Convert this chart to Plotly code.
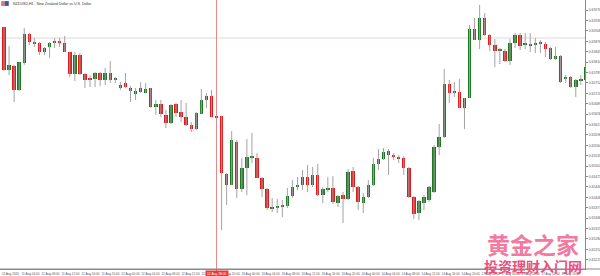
import plotly.graph_objects as go

# ---- data (NZDUSD, H1) ----
open_ = [0.65919, 0.65790, 0.65802, 0.65730, 0.65811, 0.65898, 0.65874, 0.65871, 0.65844, 0.65859,
         0.65871, 0.65874, 0.65871, 0.65844, 0.65778, 0.65835, 0.65778, 0.65766, 0.65763, 0.65781,
         0.65760, 0.65781, 0.65760, 0.65736, 0.65751, 0.65736, 0.65718, 0.65736, 0.65721, 0.65736,
         0.65679, 0.65688, 0.65655, 0.65631, 0.65688, 0.65664, 0.65649, 0.65625, 0.65613, 0.65658,
         0.65700, 0.65712, 0.65646, 0.65652, 0.65478, 0.65445, 0.65574, 0.65433, 0.65496, 0.65526,
         0.65526, 0.65466, 0.65433, 0.65373, 0.65376, 0.65379, 0.65382, 0.65412, 0.65439, 0.65445,
         0.65469, 0.65445, 0.65475, 0.65415, 0.65430, 0.65436, 0.65391, 0.65415, 0.65403, 0.65487,
         0.65439, 0.65391, 0.65409, 0.65445, 0.65508, 0.65523, 0.65547, 0.65535, 0.65529, 0.65526,
         0.65496, 0.65409, 0.65361, 0.65391, 0.65400, 0.65424, 0.65559, 0.65589, 0.65748, 0.65722,
         0.65724, 0.65676, 0.65706, 0.65913, 0.65880, 0.65946, 0.65895, 0.65865, 0.65847, 0.65847,
         0.65817, 0.65871, 0.65895, 0.65865, 0.65862, 0.65865, 0.65868, 0.65868, 0.65856, 0.65823,
         0.65832, 0.65763, 0.65769, 0.65739, 0.65757, 0.65760]
close = [0.65790, 0.65805, 0.65730, 0.65814, 0.65898, 0.65874, 0.65868, 0.65844, 0.65856, 0.65871,
         0.65877, 0.65871, 0.65844, 0.65778, 0.65835, 0.65778, 0.65760, 0.65760, 0.65781, 0.65760,
         0.65781, 0.65760, 0.65763, 0.65745, 0.65739, 0.65727, 0.65727, 0.65724, 0.65733, 0.65679,
         0.65688, 0.65658, 0.65631, 0.65685, 0.65661, 0.65649, 0.65625, 0.65613, 0.65661, 0.65700,
         0.65712, 0.65649, 0.65649, 0.65481, 0.65445, 0.65580, 0.65433, 0.65496, 0.65529, 0.65529,
         0.65466, 0.65433, 0.65376, 0.65379, 0.65382, 0.65382, 0.65412, 0.65439, 0.65445, 0.65469,
         0.65445, 0.65475, 0.65415, 0.65433, 0.65436, 0.65394, 0.65412, 0.65403, 0.65484, 0.65439,
         0.65394, 0.65409, 0.65445, 0.65508, 0.65523, 0.65544, 0.65535, 0.65529, 0.65523, 0.65496,
         0.65409, 0.65358, 0.65397, 0.65409, 0.65439, 0.65559, 0.65589, 0.65748, 0.65721, 0.65724,
         0.65676, 0.65706, 0.65913, 0.65880, 0.65946, 0.65895, 0.65865, 0.65847, 0.65850, 0.65817,
         0.65871, 0.65895, 0.65862, 0.65868, 0.65865, 0.65871, 0.65871, 0.65853, 0.65823, 0.65832,
         0.65754, 0.65769, 0.65739, 0.65760, 0.65763, 0.65799]
high = [0.65919, 0.65862, 0.65805, 0.65814, 0.65916, 0.65901, 0.65886, 0.65874, 0.65859, 0.65874,
        0.65886, 0.65886, 0.65892, 0.65844, 0.65844, 0.65841, 0.65781, 0.65775, 0.65784, 0.65784,
        0.65796, 0.65817, 0.65769, 0.65754, 0.65781, 0.65742, 0.65736, 0.65754, 0.65751, 0.65736,
        0.65700, 0.65700, 0.65670, 0.65688, 0.65691, 0.65700, 0.65691, 0.65634, 0.65664, 0.65733,
        0.65721, 0.65730, 0.65652, 0.65652, 0.65481, 0.65607, 0.65580, 0.65526, 0.65583, 0.65601,
        0.65541, 0.65469, 0.65436, 0.65406, 0.65403, 0.65400, 0.65436, 0.65460, 0.65469, 0.65490,
        0.65505, 0.65499, 0.65508, 0.65439, 0.65469, 0.65472, 0.65415, 0.65424, 0.65493, 0.65499,
        0.65442, 0.65421, 0.65460, 0.65526, 0.65553, 0.65556, 0.65553, 0.65541, 0.65535, 0.65532,
        0.65499, 0.65412, 0.65400, 0.65415, 0.65442, 0.65565, 0.65628, 0.65793, 0.65760, 0.65754,
        0.65763, 0.65706, 0.65925, 0.65946, 0.65985, 0.65961, 0.65898, 0.65883, 0.65856, 0.65853,
        0.65883, 0.65901, 0.65901, 0.65901, 0.65901, 0.65886, 0.65880, 0.65874, 0.65859, 0.65859,
        0.65835, 0.65775, 0.65772, 0.65763, 0.65775, 0.65802]
low = [0.65787, 0.65775, 0.65694, 0.65727, 0.65805, 0.65865, 0.65859, 0.65835, 0.65835, 0.65826,
       0.65856, 0.65859, 0.65844, 0.65769, 0.65757, 0.65775, 0.65736, 0.65739, 0.65739, 0.65742,
       0.65745, 0.65751, 0.65751, 0.65730, 0.65736, 0.65694, 0.65700, 0.65721, 0.65721, 0.65676,
       0.65655, 0.65649, 0.65616, 0.65628, 0.65649, 0.65634, 0.65622, 0.65604, 0.65610, 0.65658,
       0.65676, 0.65649, 0.65646, 0.65310, 0.65385, 0.65445, 0.65406, 0.65424, 0.65415, 0.65511,
       0.65466, 0.65409, 0.65370, 0.65364, 0.65361, 0.65349, 0.65376, 0.65406, 0.65430, 0.65430,
       0.65424, 0.65439, 0.65412, 0.65391, 0.65424, 0.65388, 0.65379, 0.65331, 0.65400, 0.65424,
       0.65370, 0.65361, 0.65406, 0.65442, 0.65490, 0.65520, 0.65475, 0.65520, 0.65511, 0.65475,
       0.65406, 0.65343, 0.65340, 0.65370, 0.65394, 0.65421, 0.65535, 0.65586, 0.65691, 0.65709,
       0.65676, 0.65613, 0.65706, 0.65880, 0.65853, 0.65892, 0.65847, 0.65799, 0.65808, 0.65814,
       0.65805, 0.65856, 0.65850, 0.65853, 0.65844, 0.65841, 0.65841, 0.65829, 0.65820, 0.65820,
       0.65751, 0.65751, 0.65736, 0.65709, 0.65745, 0.65760]

y_tick_labels = ["0.65970", "0.65939", "0.65908", "0.65876", "0.65845", "0.65814", "0.65783",
                 "0.65752", "0.65720", "0.65689", "0.65658", "0.65627", "0.65596", "0.65564",
                 "0.65533", "0.65502", "0.65471", "0.65440", "0.65408", "0.65377", "0.65346",
                 "0.65315", "0.65284", "0.65252", "0.65221"]

x_tick_labels = ["11 Aug 2020", "11 Aug 04:00", "11 Aug 08:00", "11 Aug 12:00", "11 Aug 16:00",
                 "11 Aug 20:00", "12 Aug 00:00", "12 Aug 04:00", "12 Aug 08:00", "12 Aug 12:00",
                 "12 Aug 16:00", "12 Aug 20:00", "13 Aug 00:00", "13 Aug 04:00", "13 Aug 08:00",
                 "13 Aug 12:00", "13 Aug 16:00", "13 Aug 20:00", "14 Aug 00:00", "14 Aug 04:00",
                 "14 Aug 08:00", "14 Aug 12:00", "14 Aug 16:00", "14 Aug 20:00", "17 Aug 00:00",
                 "17 Aug 04:00", "17 Aug 08:00", "17 Aug 12:00", "17 Aug 16:00", "17 Aug 20:00"]

title_text = "NZDUSD,H1 - New Zealand Dollar vs U.S. Dollar"
current_price = 0.65886
cursor_index = 42
cursor_label = "12 Aug 18:00"

# ---- styling ----
GREEN = "#1d7a22"
RED = "#e3191b"
WICK = "#a3a3a3"

n = len(open_)
idx = list(range(n))

wx, wy = [], []
for i in idx:
    wx += [i, i, None]
    wy += [low[i], high[i], None]

bases = [min(o, c) for o, c in zip(open_, close)]
heights = [max(abs(c - o), 0.00004) for o, c in zip(open_, close)]
colors = [GREEN if c >= o else RED for o, c in zip(open_, close)]

fig = go.Figure()
fig.add_trace(go.Scatter(x=wx, y=wy, mode="lines", line=dict(color=WICK, width=1),
                         hoverinfo="skip", showlegend=False))
fig.add_trace(go.Bar(x=idx, y=heights, base=bases, width=0.68,
                     marker=dict(color=colors, line=dict(width=0)), showlegend=False))

x_label_pos = [1.28 + 3.953 * k for k in range(len(x_tick_labels))]

fig.update_layout(
    width=600, height=276,
    margin=dict(l=0, r=15, t=0, b=7),
    paper_bgcolor="white", plot_bgcolor="white",
    font=dict(family="Liberation Sans Narrow, Liberation Sans, Arial", color="#444"),
    bargap=0,
    xaxis=dict(range=[-0.79, 114.82], showgrid=False, zeroline=False, automargin=False,
               showline=True, linecolor="#8a8a8a", linewidth=1,
               tickmode="array", tickvals=x_label_pos, ticktext=x_tick_labels, tickangle=0,
               tickfont=dict(size=3.1, color="#555"), ticks="", ticklabelstandoff=1),
    yaxis=dict(range=[0.65193, 0.66000], side="right", showgrid=False, zeroline=False,
               automargin=False,
               showline=True, linecolor="#8a8a8a", linewidth=1,
               tickmode="array", tickvals=[float(t) for t in y_tick_labels],
               ticktext=y_tick_labels, tickfont=dict(size=3.4, color="#555"),
               ticks="outside", ticklen=2, tickcolor="#8a8a8a", ticklabelstandoff=0),
)

# current price line
fig.add_shape(type="line", xref="paper", x0=0, x1=1, yref="y", y0=current_price, y1=current_price,
              line=dict(color="#e2d6d6", width=1), layer="below")
# cursor vertical line
fig.add_shape(type="line", xref="x", x0=cursor_index, x1=cursor_index, yref="paper", y0=-0.03, y1=1,
              line=dict(color="#e58a8a", width=1), layer="below")
# bottom axis extension
fig.add_shape(type="line", xref="paper", x0=0, x1=1.03, yref="paper", y0=0, y1=0,
              line=dict(color="#8a8a8a", width=1))
# cursor label
fig.add_annotation(x=cursor_index, xref="x", y=0, yref="paper", yanchor="top", yshift=-0.5,
                   text=cursor_label, showarrow=False, bgcolor="#e53935",
                   font=dict(size=3.3, color="white"), borderpad=1)

# title icon + title
fig.add_shape(type="rect", xref="paper", yref="paper", x0=0.002, x1=0.008, y0=0.978, y1=0.996,
              fillcolor="#e57373", line=dict(width=0))
fig.add_shape(type="rect", xref="paper", yref="paper", x0=0.008, x1=0.015, y0=0.978, y1=0.996,
              fillcolor="#3f51b5", line=dict(width=0))
fig.add_annotation(x=0.019, xref="paper", y=1.0, yref="paper", xanchor="left", yanchor="top",
                   text=title_text, showarrow=False, font=dict(size=3.6, color="#333"))

# watermark
fig.add_annotation(x=533 / 585, xref="paper", y=(269 - 244) / 269, yref="paper",
                   xanchor="center", yanchor="middle",
                   text="<b>黄金之家</b>", showarrow=False,
                   font=dict(family="Noto Sans CJK SC", size=23, color="#f27aa0"))
fig.add_annotation(x=533 / 585, xref="paper", y=(269 - 266) / 269, yref="paper",
                   xanchor="center", yanchor="middle",
                   text="<b>投资理财入门网</b>", showarrow=False,
                   font=dict(family="Noto Sans CJK SC", size=14, color="#ee4f7c"))

fig.write_html("out.html")
